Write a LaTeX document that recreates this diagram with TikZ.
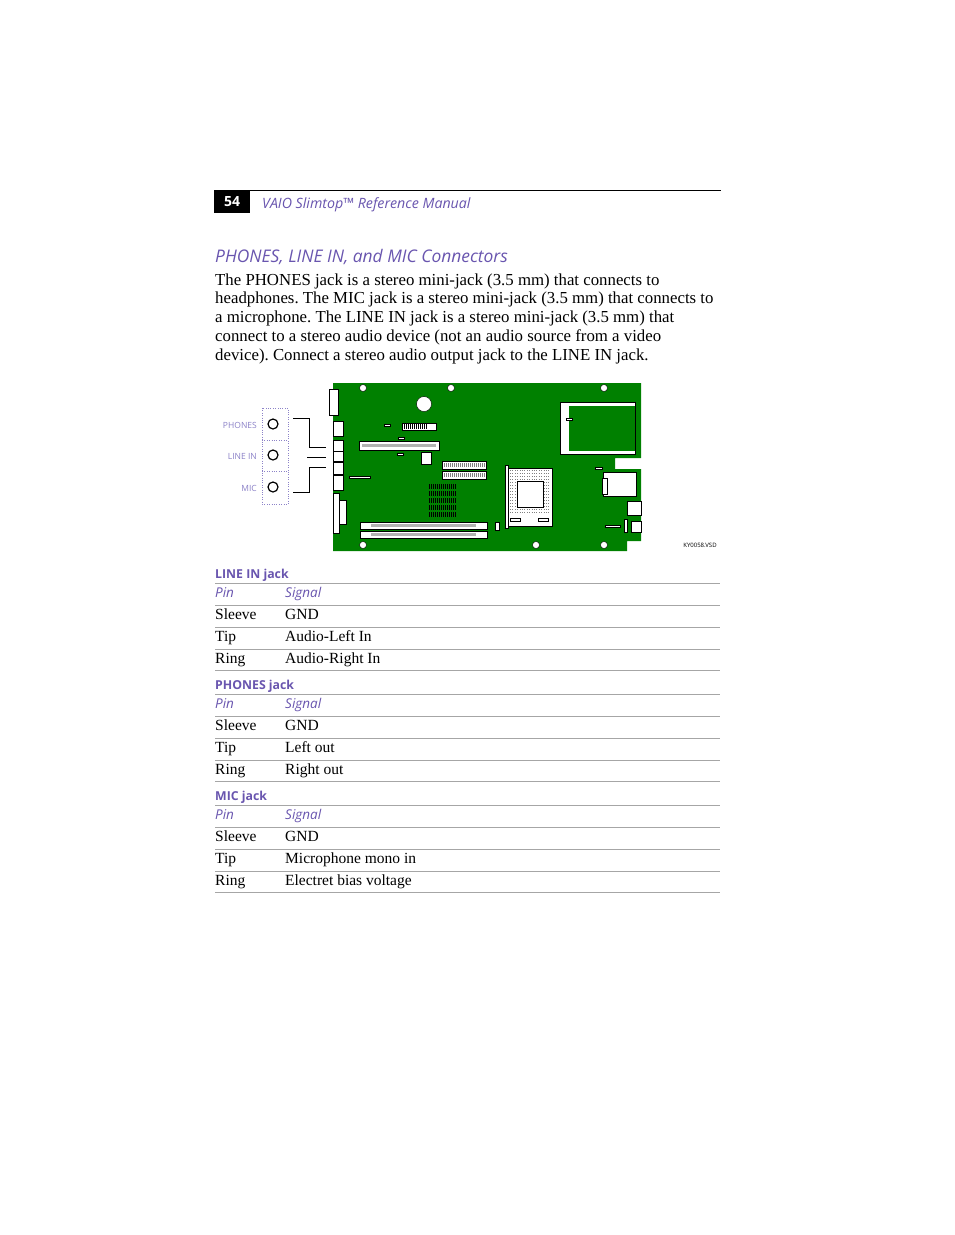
\documentclass[tikz,border=0pt]{standalone}
\usepackage{fontspec}
\setmainfont{Liberation Serif}
\setsansfont{Open Sans}
\usetikzlibrary{positioning}
\definecolor{vaio}{RGB}{105,85,175}
\definecolor{lightvaio}{RGB}{140,130,200}
\definecolor{board}{RGB}{0,128,0}
\frenchspacing
\tikzset{
  body/.style={anchor=base west,inner sep=0pt,font=\fontsize{15.5}{18}\selectfont},
  para/.style={anchor=base west,inner sep=0pt,font=\fontsize{16.8}{18}\selectfont},
  colhead/.style={anchor=base west,inner sep=0pt,text=vaio,font=\sffamily\itshape\fontsize{13.5}{16}\selectfont},
  tabhead/.style={anchor=base west,inner sep=0pt,text=vaio,font=\sffamily\bfseries\fontsize{12.3}{16}\selectfont},
  jacklabel/.style={anchor=east,inner sep=0pt,text=lightvaio,font=\sffamily\fontsize{8.5}{10}\selectfont},
  part/.style={fill=white,draw=black,line width=0.5pt},
  screw/.style={circle,draw=black,fill=white,inner sep=0pt,minimum size=7pt},
  rowline/.style={draw=gray!70,line width=0.6pt}
}
\begin{document}
\begin{tikzpicture}[x=1pt,y=-1pt]
\useasboundingbox[fill=white] (0,0) rectangle (954,1235);
% header
\fill[black] (214,190) rectangle (250,213);
\node[text=white,font=\sffamily\bfseries\fontsize{14}{16}\selectfont] (page) at (232,202) {54};
\draw[line width=1.5pt] (250,190.5) -- (721,190.5);
\node[anchor=base west,inner sep=0pt,text=vaio,font=\sffamily\itshape\fontsize{14.2}{15}\selectfont] (title) at (262,208) {VAIO Slimtop™ Reference Manual};
\node[anchor=base west,inner sep=0pt,text=vaio,font=\sffamily\itshape\fontsize{17.4}{19}\selectfont] (sect) at (215,262) {PHONES, LINE IN, and MIC Connectors};
% paragraph
\node[para] (p1) at (215,285) {The PHONES jack is a stereo mini-jack (3.5 mm) that connects to};
\node[para] (p2) at (215,303) {headphones. The MIC jack is a stereo mini-jack (3.5 mm) that connects to};
\node[para] (p3) at (215,322) {a microphone. The LINE IN jack is a stereo mini-jack (3.5 mm) that};
\node[para] (p4) at (215,341) {connect to a stereo audio device (not an audio source from a video};
\node[para] (p5) at (215,360) {device). Connect a stereo audio output jack to the LINE IN jack.};
% board
\fill[board] (333,383) -- (641,383) -- (641,458) -- (615,458) -- (615,469) -- (641,469)
  -- (641,541) -- (627,541) -- (627,551) -- (333,551) -- cycle;
\foreach \x/\y in {363/388,451/388,604/388,363/545,536/545,604/545}
  \node[screw] at (\x,\y) {};
\node[circle,draw=black,fill=white,minimum size=15pt,inner sep=0pt] (batt) at (424,404) {};
\fill[white] (560,402) rectangle (635,454);
\fill[board] (569,406) rectangle (636,451);
\draw (560,402) rectangle (635,454);
% edge connectors
\draw[part] (329,389) rectangle (338,415);
\foreach \ya/\yb in {421/436,440/451,451/461,462/474,475/490}
  \draw[part] (333,\ya) rectangle (343,\yb);
\draw[part] (333,493) rectangle (339,533);
\draw[part] (339,500) rectangle (346,524);
% slots and headers
\draw[part] (359,441) rectangle (439,450);
\fill[gray!60] (362,444) rectangle (436,447);
\draw[part] (402,423) rectangle (436,430);
\foreach \x in {404,406,...,426} \draw (\x,424) -- (\x,429);
\draw[part] (442,461) rectangle (486,469);
\draw[part] (442,471) rectangle (486,479);
\foreach \x in {444,446,...,484} {\draw[gray] (\x,463) -- (\x,467); \draw[gray] (\x,473) -- (\x,477);}
\foreach \y in {522,531} {
  \draw[part] (360,\y) rectangle (487,\y+7);
  \fill[gray!60] (371,\y+2) rectangle (476,\y+5);}
\draw[part] (421,452) rectangle (431,464);
\foreach \x/\y in {384/424,398/437,397/453,566/418} \draw[part] (\x,\y) rectangle (\x+6,\y+2);
\draw[part] (349,476) rectangle (370,478);
\draw[part] (605,525) rectangle (620,527);
\draw[part] (595,467) rectangle (602,469);
% chip grid
\foreach \y in {484,491,...,512} \foreach \x in {429,431,...,456} \fill[black] (\x,\y) rectangle (\x+1,\y+5);
% cpu socket
\draw[part] (505,465) rectangle (508,528);
\draw[part] (508,468) rectangle (552,526);
\foreach \y in {470,473,...,514} \draw[gray,dotted] (510,\y) -- (550,\y);
\draw[part] (517,481) rectangle (543,507);
\draw[part] (510,518) rectangle (520,521);
\draw[part] (538,518) rectangle (548,521);
\draw[part] (495,522) rectangle (499,530);
% right side parts
\draw[part] (603,472) rectangle (636,496);
\draw[part] (602,478) rectangle (607,494);
\draw[part] (627,501) rectangle (641,515);
\draw[part] (631,521) rectangle (641,532);
\draw[part] (624,519) rectangle (627,532);
% jack panel
\draw[lightvaio,dotted] (262,408) rectangle (288,504);
\draw[lightvaio,dotted] (262,440) -- (288,440) (262,471) -- (288,471);
\foreach \n/\y/\t in {phones/424/PHONES,linein/455/LINE IN,mic/487/MIC} {
  \node[circle,draw=black,line width=1.2pt,minimum size=10pt,inner sep=0pt] (\n) at (273,\y) {};
  \node[jacklabel] (\n lab) at (257,\y+1) {\t};}
\draw (293,418) -- (309,418) -- (309,447) -- (326,447);
\draw (307,457) -- (326,457);
\draw (293,492) -- (309,492) -- (309,467) -- (326,467);
\node[inner sep=0pt,font=\sffamily\fontsize{6}{7}\selectfont] (vsd) at (700,545) {KY0058.VSD};
% tables
\foreach \top/\name/\ra/\rb/\rc in {
   573/LINE IN jack/GND/Audio-Left In/Audio-Right In,
   684/PHONES jack/GND/Left out/Right out,
   795/MIC jack/GND/Microphone mono in/Electret bias voltage} {
  \node[tabhead] at (215,\top+5) {\name};
  \foreach \d in {10,32,54,76,97} \draw[rowline] (215,\top+\d) -- (720,\top+\d);
  \node[colhead] at (215,\top+24) {Pin};
  \node[colhead] at (285,\top+24) {Signal};
  \node[body] at (215,\top+46) {Sleeve};
  \node[body] at (285,\top+46) {\ra};
  \node[body] at (215,\top+68) {Tip};
  \node[body] at (285,\top+68) {\rb};
  \node[body] at (215,\top+90) {Ring};
  \node[body] at (285,\top+90) {\rc};
}
\end{tikzpicture}
\end{document}
